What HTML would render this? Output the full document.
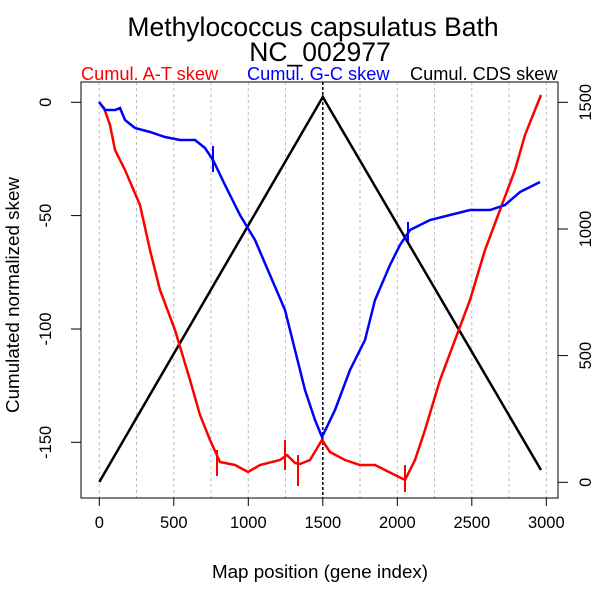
<!DOCTYPE html><html><head><style>body{margin:0;background:#fff}text{font-family:"Liberation Sans",sans-serif}</style></head><body>
<svg width="600" height="600" xmlns="http://www.w3.org/2000/svg">
<text x="313" y="36" font-size="26.5" text-anchor="middle">Methylococcus capsulatus Bath</text>
<text x="320" y="61" font-size="26.5" text-anchor="middle">NC_002977</text>
<text x="81" y="80" font-size="18.2" fill="#f00">Cumul. A-T skew</text>
<text x="247" y="80" font-size="18.2" fill="#00f">Cumul. G-C skew</text>
<text x="410" y="80" font-size="18.2">Cumul. CDS skew</text>
<g stroke="#bbb" stroke-dasharray="3,3" stroke-width="1">
<line x1="99.3" y1="82" x2="99.3" y2="498"/><line x1="136.5" y1="82" x2="136.5" y2="498"/><line x1="173.8" y1="82" x2="173.8" y2="498"/><line x1="211" y1="82" x2="211" y2="498"/><line x1="248.3" y1="82" x2="248.3" y2="498"/><line x1="285.5" y1="82" x2="285.5" y2="498"/><line x1="360" y1="82" x2="360" y2="498"/><line x1="397.3" y1="82" x2="397.3" y2="498"/><line x1="434.5" y1="82" x2="434.5" y2="498"/><line x1="471.8" y1="82" x2="471.8" y2="498"/><line x1="509" y1="82" x2="509" y2="498"/><line x1="546.3" y1="82" x2="546.3" y2="498"/></g>
<line x1="322.8" y1="82" x2="322.8" y2="498" stroke="#000" stroke-dasharray="3,2" stroke-width="1.5"/>
<rect x="81" y="82" width="477" height="416" fill="none" stroke="#000"/>
<g stroke="#000"><line x1="99.3" y1="498" x2="99.3" y2="506"/><line x1="173.8" y1="498" x2="173.8" y2="506"/><line x1="248.3" y1="498" x2="248.3" y2="506"/><line x1="322.8" y1="498" x2="322.8" y2="506"/><line x1="397.3" y1="498" x2="397.3" y2="506"/><line x1="471.8" y1="498" x2="471.8" y2="506"/><line x1="546.3" y1="498" x2="546.3" y2="506"/>
<line x1="71" y1="102.3" x2="81" y2="102.3"/><line x1="71" y1="215.6" x2="81" y2="215.6"/><line x1="71" y1="329" x2="81" y2="329"/><line x1="71" y1="442.3" x2="81" y2="442.3"/>
<line x1="558" y1="482.3" x2="568" y2="482.3"/><line x1="558" y1="355.6" x2="568" y2="355.6"/><line x1="558" y1="229" x2="568" y2="229"/><line x1="558" y1="102.3" x2="568" y2="102.3"/></g>
<g font-size="16.5" text-anchor="middle"><text x="99.3" y="528">0</text><text x="173.8" y="528">500</text><text x="248.3" y="528">1000</text><text x="322.8" y="528">1500</text><text x="397.3" y="528">2000</text><text x="471.8" y="528">2500</text><text x="546.3" y="528">3000</text>
<text transform="translate(51,102.3) rotate(-90)">0</text><text transform="translate(51,215.6) rotate(-90)">-50</text><text transform="translate(51,329) rotate(-90)">-100</text><text transform="translate(51,442.3) rotate(-90)">-150</text>
<text transform="translate(591,482.3) rotate(-90)">0</text><text transform="translate(591,355.6) rotate(-90)">500</text><text transform="translate(591,229) rotate(-90)">1000</text><text transform="translate(591,102.3) rotate(-90)">1500</text></g>
<text x="320" y="578" font-size="18.8" text-anchor="middle">Map position (gene index)</text>
<text transform="translate(19,295) rotate(-90)" font-size="18.8" text-anchor="middle">Cumulated normalized skew</text>
<polyline fill="none" stroke="#000" stroke-width="2.5" points="99.3,482 322.8,97 541,470"/>
<polyline fill="none" stroke="#f00" stroke-width="2.5" points="99,102 104,108 110,125 115,150 125,170 140,205 150,250 160,290 175,330 190,380 200,415 210,440 220,462 235,465 248,472 260,465 280,460 287,455 295,463 300,464 310,460 322,440 330,452 345,460 360,465 375,465 385,470 395,475 405,480 415,460 425,430 440,380 455,340 470,300 485,250 500,210 515,170 525,135 535,110 541,95"/>
<polyline fill="none" stroke="#00f" stroke-width="2.5" points="99,102 105,110 115,110 120,108 125,120 135,128 150,132 165,137 180,140 195,140 205,148 213,160 225,185 240,215 255,240 270,275 285,310 295,350 305,390 315,420 322,437 335,410 350,370 365,340 375,300 390,265 400,245 410,230 430,220 450,215 470,210 490,210 505,205 520,192 540,182"/>
<g stroke-width="2"><line x1="217" y1="450" x2="217" y2="476" stroke="#f00"/><line x1="285" y1="440" x2="285" y2="470" stroke="#f00"/><line x1="298" y1="455" x2="298" y2="486" stroke="#f00"/><line x1="405" y1="465" x2="405" y2="492" stroke="#f00"/>
<line x1="213" y1="146" x2="213" y2="172" stroke="#00f"/><line x1="408" y1="222" x2="408" y2="241" stroke="#00f"/></g>
</svg></body></html>
